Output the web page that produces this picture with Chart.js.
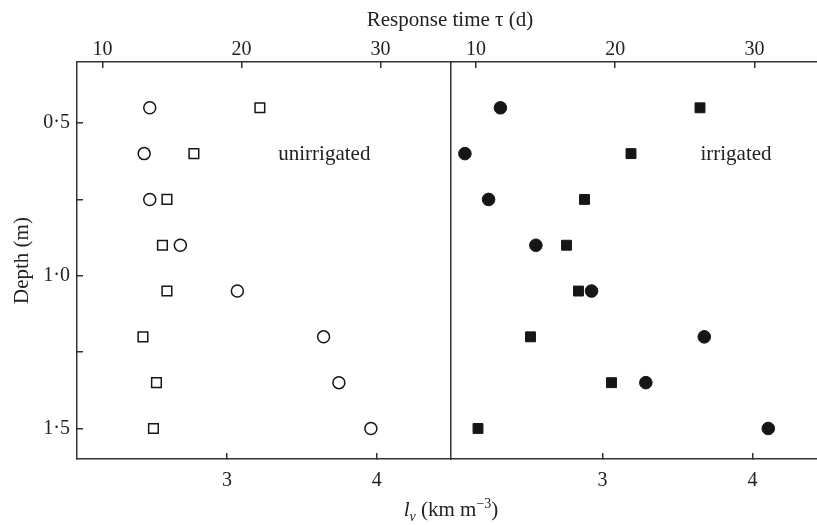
<!DOCTYPE html>
<html>
<head>
<meta charset="utf-8">
<script src="https://cdn.jsdelivr.net/npm/chart.js@4.4.1/dist/chart.umd.min.js"></script>
<style>
  html, body { margin: 0; padding: 0; background: #fff; }
  #wrap { position: relative; width: 817px; height: 525px; overflow: hidden;
          font-family: 'Liberation Serif', 'Times New Roman', serif; color: #222; }
  #leftChart { position: absolute; left: 0; top: 0; }
  #rightChart { position: absolute; left: 449px; top: 0; }
  .title { position: absolute; width: 300px; text-align: center; font-size: 21px;
           line-height: 24px; white-space: nowrap; }
  .title sub, .title sup { font-size: 14px; line-height: 0; }
</style>
</head>
<body>
<div id="wrap">
  <canvas id="leftChart" width="453" height="525"></canvas>
  <canvas id="rightChart" width="368" height="525"></canvas>
  <div class="title" style="left:300px; top:7px">Response time τ (d)</div>
  <div class="title" style="left:301px; top:497px"><i>l</i><sub><i>v</i></sub> (km m<sup>−3</sup>)</div>
</div>
<script>
// depth of each sample (m)
const depths = [0.45, 0.6, 0.75, 0.9, 1.05, 1.2, 1.35, 1.5];

// unirrigated: circles = response time (top axis), squares = l_v (bottom axis)
const unirrTau = [13.4, 13.0, 13.4, 15.6, 19.7, 25.9, 27.0, 29.3];
const unirrLv = [3.22, 2.78, 2.6, 2.57, 2.6, 2.44, 2.53, 2.51];

// irrigated
const irrTau = [11.75, 9.2, 10.9, 14.3, 18.3, 26.4, 22.2, 31.0];
const irrLv = [3.65, 3.19, 2.88, 2.76, 2.84, 2.52, 3.06, 2.17];

const depthTicks = [0.5, 0.75, 1.0, 1.25, 1.5];
const lvTicks = [3, 4];
const tauTicks = [10, 20, 30];

const INK = '#222';
const FRAME = '#333';
const MARK = '#161616';
const FONT = "'Liberation Serif', 'Times New Roman', serif";

Chart.defaults.font.family = FONT;
Chart.defaults.color = INK;

function pts(xs) {
    return xs.map(function (v, i) { return { x: v, y: depths[i] }; });
}

function xScale(pos, min, max, tickVals, pad) {
    return {
        type: 'linear',
        position: pos,
        min: min,
        max: max,
        afterBuildTicks: function (s) { s.ticks = tickVals.map(function (v) { return { value: v }; }); },
        afterFit: function (s) { s.height = pos === 'top' ? 62 : 66; },
        grid: { drawOnChartArea: false, tickLength: -6, color: FRAME, lineWidth: 1.5 },
        border: { display: true, color: FRAME, width: 1.5 },
        ticks: { padding: pad, font: { size: 20 }, color: INK, maxRotation: 0, autoSkip: false }
    };
}

// text label inside each panel
const notePlugin = {
    id: 'note',
    afterDatasetsDraw: function (chart, args, opts) {
        const ctx = chart.ctx;
        ctx.save();
        ctx.font = '21px ' + FONT;
        ctx.fillStyle = INK;
        ctx.textAlign = 'center';
        ctx.textBaseline = 'alphabetic';
        ctx.fillText(opts.text, chart.scales.x.getPixelForValue(opts.lv),
            chart.scales.y.getPixelForValue(opts.depth) + 6.5);
        ctx.restore();
    }
};

// left panel - unirrigated
new Chart(document.getElementById('leftChart'), {
    type: 'scatter',
    data: {
        datasets: [{
            label: 'Response time',
            data: pts(unirrTau),
            xAxisID: 'xt',
            pointStyle: 'circle',
            pointRadius: 6,
            pointBorderWidth: 1.5,
            pointBorderColor: MARK,
            pointBackgroundColor: '#fff'
        }, {
            label: 'Root length density',
            data: pts(unirrLv),
            xAxisID: 'x',
            pointStyle: 'rect',
            pointRadius: 6.8,
            pointBorderWidth: 1.5,
            pointBorderColor: MARK,
            pointBackgroundColor: '#fff'
        }]
    },
    options: {
        responsive: false,
        animation: false,
        events: [],
        layout: { autoPadding: false, padding: { left: 0, right: 2, top: 0, bottom: 0 } },
        plugins: {
            legend: { display: false },
            tooltip: { enabled: false },
            note: { text: 'unirrigated', lv: 3.65, depth: 0.6 }
        },
        scales: {
            x: xScale('bottom', 2.0, 4.495, lvTicks, 16),
            xt: xScale('top', 8.17, 35.06, tauTicks, 6),
            y: {
                type: 'linear',
                reverse: true,
                min: 0.3,
                max: 1.6,
                afterBuildTicks: function (s) { s.ticks = depthTicks.map(function (v) { return { value: v }; }); },
                afterFit: function (s) { s.width = 77; },
                grid: { drawOnChartArea: false, tickLength: -6, color: FRAME, lineWidth: 1.5 },
                border: { display: true, color: FRAME, width: 1.5 },
                ticks: {
                    padding: 13,
                    font: { size: 20 },
                    color: INK,
                    callback: function (v) {
                        return Math.abs(v * 2 - Math.round(v * 2)) < 1e-6 ? v.toFixed(1).replace('.', '\u00B7') : '';
                    }
                },
                title: { display: true, text: 'Depth (m)', font: { size: 21 }, color: INK, padding: { top: 10, bottom: 0 } }
            }
        }
    },
    plugins: [notePlugin]
});

// right panel - irrigated
new Chart(document.getElementById('rightChart'), {
    type: 'scatter',
    data: {
        datasets: [{
            label: 'Response time',
            data: pts(irrTau),
            xAxisID: 'xt',
            pointStyle: 'circle',
            pointRadius: 6.3,
            pointBorderWidth: 1,
            pointBorderColor: MARK,
            pointBackgroundColor: MARK
        }, {
            label: 'Root length density',
            data: pts(irrLv),
            xAxisID: 'x',
            pointStyle: 'rect',
            pointRadius: 7,
            pointBorderWidth: 1,
            pointBorderColor: MARK,
            pointBackgroundColor: MARK
        }]
    },
    options: {
        responsive: false,
        animation: false,
        events: [],
        layout: { autoPadding: false, padding: { left: 2, right: 0, top: 0, bottom: 0 } },
        plugins: {
            legend: { display: false },
            tooltip: { enabled: false },
            note: { text: 'irrigated', lv: 3.89, depth: 0.6 }
        },
        scales: {
            x: xScale('bottom', 1.99, 4.43, lvTicks, 16),
            xt: xScale('top', 8.2, 34.5, tauTicks, 6),
            y: {
                type: 'linear',
                reverse: true,
                min: 0.3,
                max: 1.6,
                afterFit: function (s) { s.width = 0; },
                grid: { display: false },
                border: { display: true, color: FRAME, width: 1.5 },
                ticks: { display: false }
            }
        }
    },
    plugins: [notePlugin]
});
</script>
</body>
</html>
